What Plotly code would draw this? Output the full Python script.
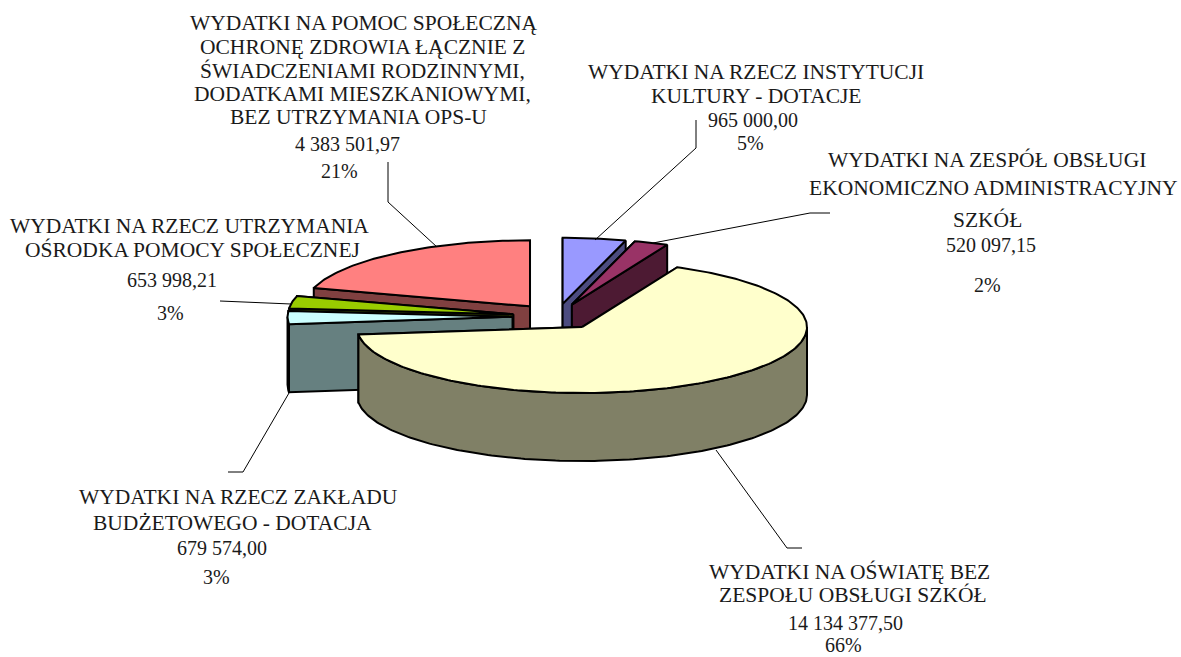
import math
import plotly.graph_objects as go

# ---- data (clockwise from 12 o'clock) ----
names = ["instytucje", "zespol", "oswiata", "zaklad", "ops", "pomoc"]
values = [965000.00, 520097.15, 14134377.50, 679574.00, 653998.21, 4383501.97]
top_colors = ["#9999FF", "#993366", "#FFFFCC", "#CCFFFF", "#99CC00", "#FF8080"]
side_colors = ["#4C4C80", "#4D1A33", "#808066", "#668080", "#4D6600", "#804040"]
draw_order = [5, 0, 1, 4, 3, 2]  # back to front

label_lines = [
    ["WYDATKI NA RZECZ INSTYTUCJI", "KULTURY - DOTACJE"],
    ["WYDATKI NA ZESPÓŁ OBSŁUGI", "EKONOMICZNO ADMINISTRACYJNY", "SZKÓŁ"],
    ["WYDATKI NA OŚWIATĘ BEZ", "ZESPOŁU OBSŁUGI SZKÓŁ"],
    ["WYDATKI NA RZECZ ZAKŁADU", "BUDŻETOWEGO - DOTACJA"],
    ["WYDATKI NA RZECZ UTRZYMANIA", "OŚRODKA POMOCY SPOŁECZNEJ"],
    ["WYDATKI NA POMOC SPOŁECZNĄ", "OCHRONĘ ZDROWIA ŁĄCZNIE Z", "ŚWIADCZENIAMI RODZINNYMI,",
     "DODATKAMI MIESZKANIOWYMI,", "BEZ UTRZYMANIA OPS-U"],
]
# per-line centre positions of each label block
label_x = [
    [755.5, 756, 753, 750],
    [987, 993, 987.5, 991, 987],
    [849.5, 852.5, 845, 843.5],
    [238, 232, 222, 216],
    [189, 192, 172, 170],
    [363, 362, 362, 362, 358, 347, 339],
]
label_y = [
    [72, 96, 120, 143],
    [160, 188, 220, 245, 285],
    [572, 595, 623, 645],
    [497, 523, 548, 577],
    [226, 250, 280, 313],
    [23, 47, 71, 94, 117, 144, 171],
]
leader_x = [
    [595, 696, 696], [653, 810, 830], [716, 787, 802], [289, 243, 228], [291, 220], [437, 388, 388],
]
leader_y = [
    [240, 148, 120], [243, 213, 213], [450, 548, 548], [393, 472, 472], [304, 301], [247, 202, 162],
]

# ---- pie geometry ----
CX, CY = 556.4, 316.6
RX, RY = 225, 66
DEPTH = 68
EXPLODE = 0.195
FONT = "Liberation Serif"
CAPS_SIZE = 21.5
NUMBER_SIZE = 20
PCT_SIZE = 20
TEXT = "#1a1a1a"


def fmt(v):
    s = f"{v:,.2f}"
    return s.replace(",", " ").replace(".", ",")


def rim(a, ox, oy, dz=0):
    r = math.radians(a)
    return ox + RX * math.sin(r), oy - RY * math.cos(r) + dz


def arc(a0, a1, ox, oy, dz=0):
    n = max(2, int(abs(a1 - a0)) + 2)
    pts = [rim(a0 + (a1 - a0) * i / (n - 1), ox, oy, dz) for i in range(n)]
    return pts


def poly(pts, fill, width=2):
    xs = [p[0] for p in pts] + [pts[0][0]]
    ys = [p[1] for p in pts] + [pts[0][1]]
    return go.Scatter(x=xs, y=ys, mode="lines", fill="toself", fillcolor=fill,
                      line=dict(color="black", width=width), hoverinfo="skip", showlegend=False)


total = sum(values)
starts, acc = [], 0.0
for v in values:
    starts.append(acc / total * 360)
    acc += v

fig = go.Figure()
for i in draw_order:
    a0 = starts[i]
    a1 = a0 + values[i] / total * 360
    mid = math.radians((a0 + a1) / 2)
    ox = CX + EXPLODE * RX * math.sin(mid)
    oy = CY - EXPLODE * RY * math.cos(mid)
    # the cut face whose rim sits lower on the page is nearer the viewer, so it goes last
    for a in sorted((a0, a1), key=lambda t: rim(t, ox, oy)[1]):
        p = rim(a, ox, oy)
        fig.add_trace(poly([(ox, oy), p, (p[0], p[1] + DEPTH), (ox, oy + DEPTH)], side_colors[i]))
    w0, w1 = max(a0, 90), min(a1, 270)
    if w1 > w0:
        fig.add_trace(poly(arc(w0, w1, ox, oy) + arc(w1, w0, ox, oy, DEPTH), side_colors[i]))
    fig.add_trace(poly([(ox, oy)] + arc(a0, a1, ox, oy), top_colors[i]))

for lx, ly in zip(leader_x, leader_y):
    fig.add_trace(go.Scatter(x=lx, y=ly, mode="lines", line=dict(color="black", width=1),
                             hoverinfo="skip", showlegend=False))

for i in range(len(values)):
    n = len(label_lines[i])
    lines = label_lines[i] + [fmt(values[i]), f"{round(values[i] / total * 100)}%"]
    sizes = [CAPS_SIZE] * n + [NUMBER_SIZE, PCT_SIZE]
    for text, x, y, s in zip(lines, label_x[i], label_y[i], sizes):
        fig.add_annotation(x=x, y=y, text=text, showarrow=False, xanchor="center", yanchor="middle",
                           borderpad=0, font=dict(family=FONT, size=s, color=TEXT))

fig.update_layout(
    width=1181, height=657, margin=dict(l=0, r=0, t=0, b=0),
    paper_bgcolor="white", plot_bgcolor="white", showlegend=False,
    xaxis=dict(range=[0, 1181], visible=False, fixedrange=True),
    yaxis=dict(range=[657, 0], visible=False, fixedrange=True),
)
fig.write_html("out.html", config={"displayModeBar": False},
               post_script="document.body.style.margin='0';")
